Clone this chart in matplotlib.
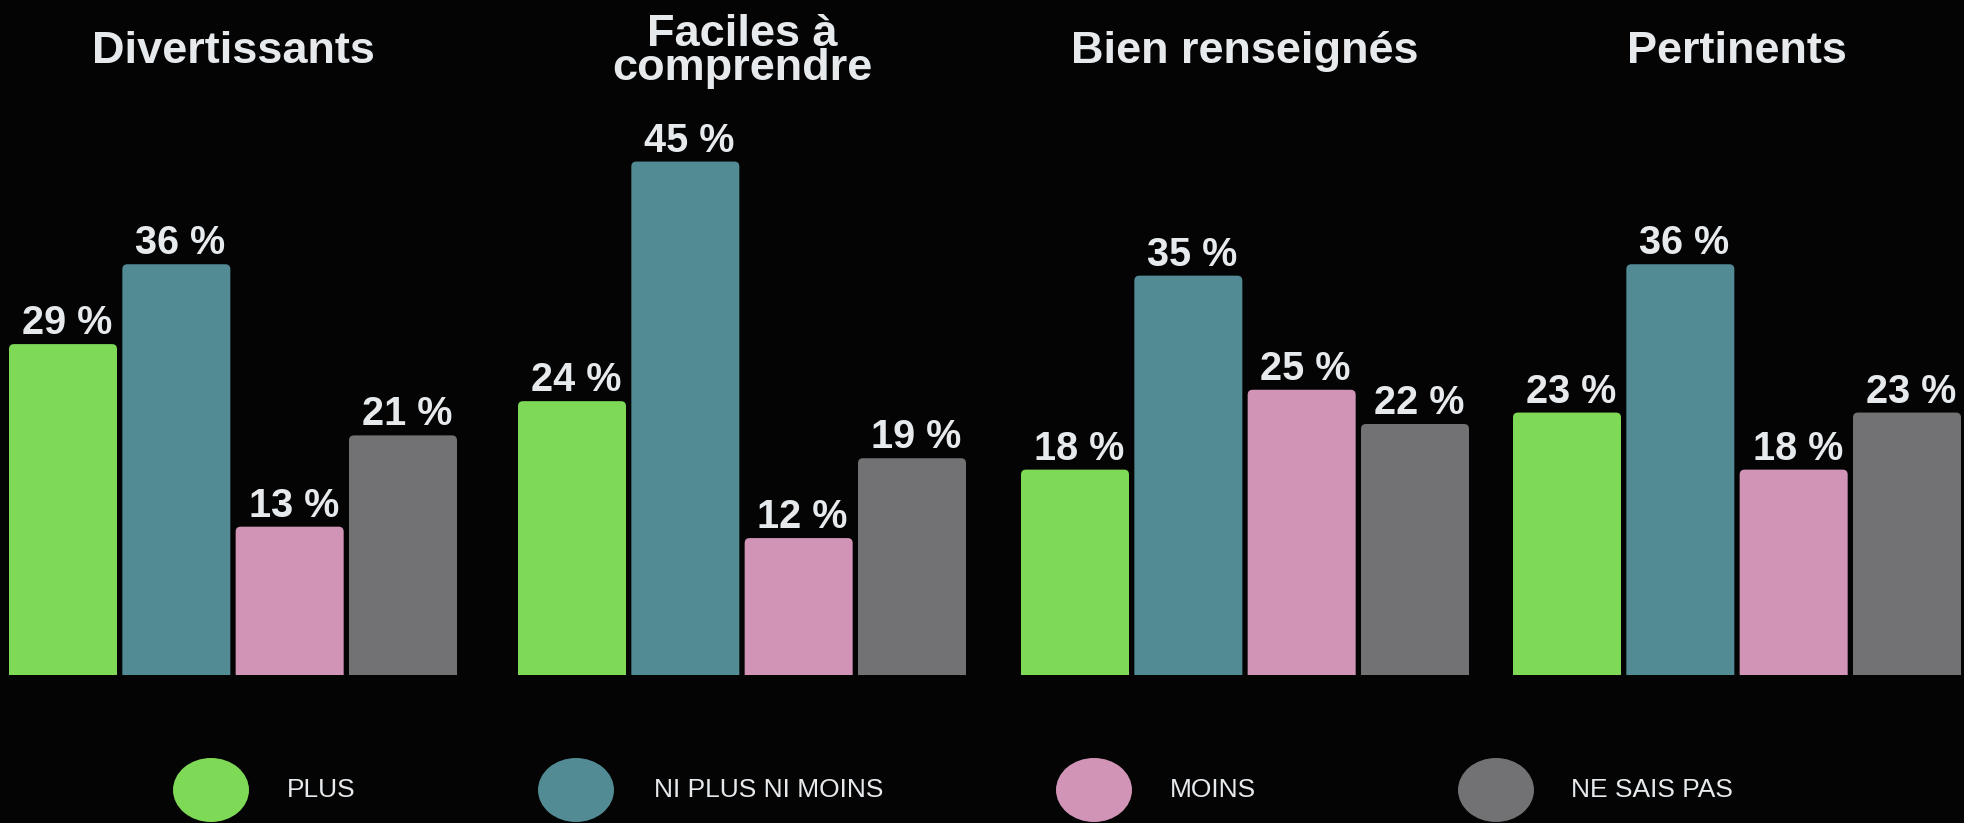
import matplotlib
matplotlib.use("Agg")
import matplotlib.pyplot as plt
from matplotlib.patches import FancyBboxPatch, Ellipse

# data
groups = ["Divertissants", "Faciles à\ncomprendre", "Bien renseignés", "Pertinents"]
answers = ["PLUS", "NI PLUS NI MOINS", "MOINS", "NE SAIS PAS"]
plus = [29, 24, 18, 23]
neutral = [36, 45, 35, 36]
moins = [13, 12, 25, 18]
nsp = [21, 19, 22, 23]

colors = ["#7ED957", "#538B94", "#D294B6", "#727274"]
bg = "#040404"
txt = "#E6EAED"

W, H = 1965, 823
fig = plt.figure(figsize=(W / 100, H / 100), dpi=100, facecolor=bg)

group_left = [9, 518, 1021, 1513]
group_w = 448
bottom_px, top_px = 675, 675 - 50 * 11.41
bw = 0.953
xspan = 3 + bw
px_per_x = group_w / xspan
px_per_y = 11.41
radius_px = 5

series = [plus, neutral, moins, nsp]
for g, name in enumerate(groups):
    ax = fig.add_axes([group_left[g] / W, 1 - bottom_px / H, group_w / W, (bottom_px - top_px) / H])
    ax.set_facecolor(bg)
    ax.set_xlim(-bw / 2, 3 + bw / 2)
    ax.set_ylim(0, 50)
    ax.axis("off")
    for i, s in enumerate(series):
        v = s[g]
        r = radius_px / px_per_x
        patch = FancyBboxPatch((i - bw / 2, -2), bw, v + 2,
                               boxstyle=f"round,pad=0,rounding_size={r}",
                               mutation_aspect=px_per_x / px_per_y,
                               facecolor=colors[i], edgecolor="none")
        ax.add_patch(patch)
        ax.annotate(f"{v} %", (i, v), xytext=(4, 10), textcoords="offset pixels",
                    ha="center", va="baseline", fontsize=28.5, fontweight="bold",
                    family="Liberation Sans", color=txt)

    cx = (group_left[g] + group_w / 2) / W
    base = 80 if "\n" in name else 63
    fig.text(cx, 1 - base / H, name, ha="center", va="baseline", fontsize=32.5,
             fontweight="bold", family="Liberation Sans", color=txt,
             linespacing=0.78)

# legend
dot_x = [211, 576, 1094, 1496]
label_x = [287, 654, 1170, 1571]
for i, lab in enumerate(answers):
    fig.add_artist(Ellipse((dot_x[i] / W, 33 / H), 76 / W, 64 / H,
                           transform=fig.transFigure, facecolor=colors[i], edgecolor="none"))
    fig.text(label_x[i] / W, 26 / H, lab, ha="left", va="baseline", fontsize=19,
             family="Liberation Sans", color=txt)

fig.savefig("out.png", dpi=100, facecolor=bg)
